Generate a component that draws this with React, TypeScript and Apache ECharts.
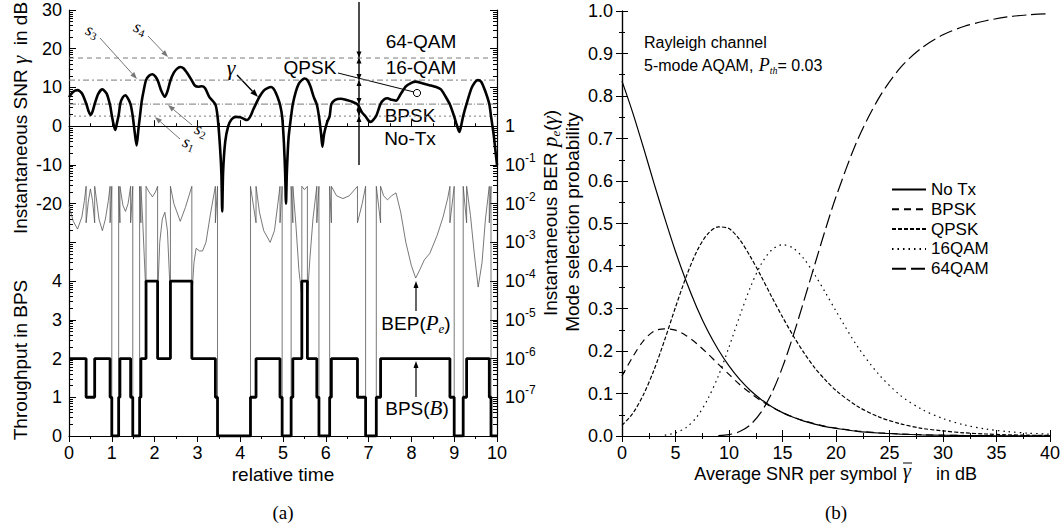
import React, { useEffect, useRef } from 'react';
import * as echarts from 'echarts';

// ---------- Panel (a) data ----------
const THRESH_DB = [2.6, 5.7, 11.9, 17.6]; // s1, s2, s3, s4

const SNR_T = [0.00,0.10,0.20,0.30,0.40,0.46,0.50,0.55,0.60,0.68,0.78,0.88,0.96,1.00,1.04,1.08,1.12,1.16,1.20,1.26,1.32,1.38,1.44,1.49,1.54,1.58,1.62,1.66,1.70,1.75,1.80,1.87,1.95,2.02,2.08,2.15,2.24,2.30,2.37,2.45,2.52,2.60,2.68,2.78,2.87,2.94,3.02,3.10,3.18,3.28,3.42,3.47,3.52,3.56,3.58,3.60,3.65,3.72,3.80,3.90,4.00,4.10,4.16,4.24,4.30,4.37,4.45,4.55,4.65,4.72,4.80,4.88,4.93,4.98,5.02,5.05,5.07,5.09,5.13,5.19,5.23,5.30,5.37,5.44,5.50,5.57,5.64,5.72,5.79,5.84,5.89,5.92,5.96,6.03,6.09,6.13,6.22,6.35,6.50,6.62,6.74,6.85,6.93,7.00,7.05,7.10,7.18,7.28,7.36,7.44,7.54,7.64,7.75,7.87,8.00,8.10,8.25,8.42,8.58,8.69,8.80,8.90,9.00,9.06,9.12,9.17,9.21,9.29,9.40,9.48,9.55,9.63,9.72,9.82,9.86,9.92,9.96,10.00];
const SNR_DB = [7.5,8.9,9.3,8.5,5.9,3.8,2.9,3.8,5.7,8.3,9.5,8.4,5.4,2.8,0.5,-1.0,0.8,2.8,5.9,7.5,8.0,7.1,5.6,2.5,-2.0,-5.0,-1.0,2.8,6.5,9.5,11.9,13.0,13.4,12.8,11.6,9.3,7.6,9.0,11.8,13.8,14.8,15.3,14.9,13.4,11.8,10.5,10.2,10.3,9.8,7.5,5.6,2.6,-4,-12,-22,-12,-4,0,1.8,2.4,2.3,1.8,1.6,2.6,4.2,5.8,7.6,9.2,9.9,10.1,9.3,7.3,5.6,2.5,-4,-12,-20,-12,-3,2.6,5.7,8.9,11.0,11.9,12.3,11.9,10.3,7.5,5.6,2.5,-2,-5.3,-2,1.0,2.6,5.7,6.8,7.1,6.7,6.3,5.6,3.5,2.5,1.4,1.1,1.5,2.7,5.8,6.9,7.2,6.8,6.6,8.3,10.3,11.2,11.5,11.1,10.6,10.1,9.5,7.6,5.6,2.5,0.3,-1.5,0.5,2.6,5.8,9.7,11.3,11.9,11.5,9.2,5.7,2.6,-2,-6,-10];

// instantaneous BER trace [relative time, BER] (1e-8 = no transmission, off scale)
const BER_TRACE: [number, number][] = [
  [0, 8.9e-3], [0.1, 3.5e-3], [0.2, 2.2e-3], [0.3, 4.5e-3], [0.36, 1.2e-2], [0.4, 2.8e-2],
  [0.4, 3.2e-3], [0.45, 1.1e-2], [0.5, 2.4e-2], [0.55, 1.2e-2], [0.6, 3.2e-3],
  [0.6, 2.8e-2], [0.65, 1.1e-2], [0.7, 4e-3], [0.78, 2e-3], [0.85, 4e-3], [0.92, 1.2e-2], [0.96, 2.8e-2],
  [0.96, 3.2e-3], [1.0, 2.8e-2], [1.0, 1e-8], [1.16, 1e-8], [1.16, 2.8e-2], [1.19, 3.2e-3],
  [1.19, 2.8e-2], [1.26, 9e-3], [1.32, 6.3e-3], [1.38, 1e-2], [1.44, 2.8e-2],
  [1.44, 3.2e-3], [1.49, 2.8e-2], [1.49, 1e-8], [1.65, 1e-8], [1.65, 2.8e-2], [1.68, 3.2e-3],
  [1.68, 2.8e-2], [1.72, 4e-3], [1.76, 4e-4], [1.8, 4e-5],
  [1.8, 2.8e-2], [1.87, 2e-2], [1.95, 1.5e-2], [2.02, 2e-2], [2.07, 2.8e-2],
  [2.07, 4e-5], [2.12, 1e-3], [2.18, 4e-3], [2.24, 6e-3], [2.3, 2e-3], [2.34, 2e-4], [2.37, 4e-5],
  [2.37, 2.8e-2], [2.45, 1e-2], [2.6, 3.5e-3], [2.72, 8e-3], [2.87, 2.8e-2],
  [2.87, 4e-5], [2.92, 3e-4], [2.97, 7e-4], [3.05, 6e-4], [3.12, 6e-4], [3.2, 1e-3], [3.3, 5e-3], [3.38, 1.6e-2], [3.42, 2.8e-2],
  [3.42, 3.2e-3], [3.47, 2.8e-2], [3.47, 1e-8], [4.24, 1e-8], [4.24, 2.8e-2], [4.37, 3.2e-3],
  [4.37, 2.8e-2], [4.45, 6e-3], [4.55, 2e-3], [4.7, 1e-3], [4.8, 2e-3], [4.88, 1e-2], [4.93, 2.8e-2],
  [4.93, 3.2e-3], [4.98, 2.8e-2], [4.98, 1e-8], [5.19, 1e-8], [5.19, 2.8e-2], [5.23, 3.2e-3],
  [5.23, 2.8e-2], [5.3, 3e-3], [5.37, 2e-4], [5.44, 4e-5],
  [5.44, 2.8e-2], [5.5, 2.3e-2], [5.57, 2.8e-2],
  [5.57, 4e-5], [5.63, 4e-4], [5.7, 4e-3], [5.79, 2.8e-2],
  [5.79, 3.2e-3], [5.84, 2.8e-2], [5.84, 1e-8], [6.09, 1e-8], [6.09, 2.8e-2], [6.13, 3.2e-3],
  [6.13, 2.8e-2], [6.25, 1.6e-2], [6.4, 1.35e-2], [6.55, 1.6e-2], [6.74, 2.8e-2],
  [6.74, 3.2e-3], [6.85, 1e-2], [6.93, 2.8e-2], [6.93, 1e-8], [7.18, 1e-8], [7.18, 2.8e-2], [7.28, 3.2e-3],
  [7.28, 2.8e-2], [7.35, 1.6e-2], [7.44, 1.25e-2], [7.54, 1.6e-2], [7.64, 1.9e-2], [7.75, 6e-3], [7.87, 1e-3], [8.0, 2.5e-4], [8.1, 1.2e-4], [8.2, 2e-4], [8.3, 3.5e-4], [8.43, 5.2e-4], [8.6, 1.5e-3], [8.74, 4.5e-3], [8.85, 1.4e-2], [8.9, 2.8e-2],
  [8.9, 3.2e-3], [9.0, 2.8e-2], [9.0, 1e-8], [9.21, 1e-8], [9.21, 2.8e-2], [9.29, 3.2e-3],
  [9.29, 2.8e-2], [9.38, 5e-3], [9.47, 5e-4], [9.56, 7e-5], [9.65, 3e-4], [9.73, 4e-3], [9.82, 2.8e-2],
  [9.82, 3.2e-3], [9.86, 2.8e-2], [9.86, 1e-8], [10, 1e-8],
];

// throughput (bits per symbol), level holds from TP_T[i] to TP_T[i+1]
const TP_T = [0,0.4,0.6,0.96,1.0,1.16,1.19,1.44,1.49,1.65,1.68,1.8,2.07,2.37,2.87,3.42,3.47,4.24,4.37,4.93,4.98,5.19,5.23,5.44,5.57,5.79,5.84,6.09,6.13,6.74,6.93,7.18,7.28,8.9,9.0,9.21,9.29,9.82,9.86,10];
const TP_B = [2,1,2,1,0,1,2,1,0,1,2,4,2,4,2,1,0,1,2,1,0,1,2,4,2,1,0,1,2,1,0,1,2,1,0,1,2,1,0,0];

// ---------- Panel (b) data ----------
const AVG_SNR = [0,1,2,3,4,5,6,7,8,9,10,11,12,13,14,15,16,17,18,19,20,22,24,26,28,30,32,34,36,38,40];
const P_NOTX = [0.835,0.761,0.679,0.594,0.512,0.434,0.364,0.302,0.248,0.203,0.165,0.133,0.107,0.086,0.069,0.055,0.044,0.035,0.028,0.022,0.018,0.011,0.007,0.0045,0.0028,0.0018,0.0011,0.0007,0.00045,0.0003,0.0002];
const P_BPSK = [0.141,0.186,0.224,0.247,0.252,0.249,0.236,0.217,0.194,0.169,0.145,0.121,0.101,0.083,0.068,0.055,0.0445,0.036,0.029,0.023,0.0185,0.0118,0.0075,0.0047,0.003,0.0019,0.0012,0.0007,0.0005,0.0003,0.0002];
const P_QPSK = [0.025,0.053,0.097,0.156,0.227,0.303,0.375,0.435,0.475,0.492,0.488,0.462,0.422,0.376,0.327,0.28,0.236,0.196,0.161,0.132,0.107,0.070,0.045,0.029,0.018,0.012,0.0074,0.0047,0.0029,0.0019,0.0012];
const P_16QAM = [null,null,null,null,0.002,0.0074,0.020,0.045,0.086,0.141,0.209,0.282,0.35,0.404,0.438,0.45,0.442,0.417,0.38,0.338,0.294,0.211,0.145,0.096,0.063,0.041,0.026,0.0165,0.0105,0.0066,0.0042];
const P_64QAM = [null,null,null,null,null,null,null,null,null,0.0007,0.0032,0.0104,0.0266,0.056,0.101,0.162,0.236,0.318,0.402,0.485,0.563,0.696,0.795,0.866,0.913,0.944,0.964,0.977,0.986,0.991,0.994];
const MODE_NAMES = ['No Tx', 'BPSK', 'QPSK', '16QAM', '64QAM'];

// tick helpers
const LOG_MINOR_OFFSETS = [3.01, 4.77, 6.02, 6.99, 7.78, 8.45, 9.03, 9.54];
const DECADES = [-80, -70, -60, -50, -40, -30, -20, -10, 0, 10, 20];

const SANS = '"Liberation Sans", Arial, Helvetica, sans-serif';
const SERIF = '"Liberation Serif", "DejaVu Serif", Times, serif';

function arrow(x1: number, y1: number, x2: number, y2: number, color: string, w: number, hl = 7, hw = 2.6) {
  const dx = x2 - x1, dy = y2 - y1;
  const L = Math.sqrt(dx * dx + dy * dy);
  const ux = dx / L, uy = dy / L;
  const bx = x2 - ux * hl, by = y2 - uy * hl;
  const px = -uy * hw, py = ux * hw;
  return [
    { type: 'line', silent: true, shape: { x1, y1, x2: bx, y2: by }, style: { stroke: color, lineWidth: w } },
    { type: 'polygon', silent: true, shape: { points: [[x2, y2], [bx + px, by + py], [bx - px, by - py]] }, style: { fill: color } },
  ];
}

function text(x: number, y: number, t: string, o: any = {}) {
  return {
    type: 'text', x, y, rotation: o.rot || 0, silent: true,
    style: {
      text: t, fill: o.color || '#000',
      font: `${o.italic ? 'italic ' : ''}${o.size || 19}px ${o.family || SANS}`,
      align: o.align || 'center', verticalAlign: 'middle', rich: o.rich,
    },
  };
}

const richBase = (size: number, color = '#000') => ({
  a: { fontSize: size, fontFamily: SANS, color },
  g: { fontSize: size + 2, fontFamily: SERIF, fontStyle: 'italic', color },
  s: { fontSize: size - 6, fontFamily: SERIF, fontStyle: 'italic', color, verticalAlign: 'bottom', padding: [10, 0, 0, 0] },
});

export default function App() {
  const ref = useRef<HTMLDivElement>(null);
  useEffect(() => {
    if (!ref.current) return;
    const chart = echarts.init(ref.current, undefined, { renderer: 'svg' });
    const minorTicks: number[] = [];
    DECADES.forEach((d) => LOG_MINOR_OFFSETS.forEach((o) => { if (d + o < 30) minorTicks.push(d + o); }));

    const axisLine = { show: true, lineStyle: { color: '#000', width: 1.2 } };
    const tickLbl = { color: '#000', fontSize: 18, fontFamily: SANS };

    const grayThr = '#7a7a7a';
    const thrStyles: any[] = [[2, 3], [7, 2, 1, 2], [6, 3, 2, 3], [5, 4]];

    const series: any[] = [];
    THRESH_DB.forEach((s, i) => {
      series.push({
        type: 'line', xAxisIndex: 0, yAxisIndex: 0, data: [[0, s], [10, s]], symbol: 'none', silent: true,
        lineStyle: { color: grayThr, width: 1, type: thrStyles[i] }, z: 1,
      });
    });
    series.push({
      type: 'line', xAxisIndex: 0, yAxisIndex: 2, symbol: 'none', silent: true,
      data: BER_TRACE.map(([t, p]) => [t, Math.log10(p)]),
      lineStyle: { color: '#555', width: 0.8 }, z: 2,
    });
    series.push({
      type: 'line', xAxisIndex: 0, yAxisIndex: 1, symbol: 'none', silent: true, step: 'end',
      data: TP_T.map((t, i) => [t, TP_B[i]]),
      lineStyle: { color: '#000', width: 2.8 }, z: 3,
    });
    series.push({
      type: 'line', xAxisIndex: 0, yAxisIndex: 0, symbol: 'none', silent: true, smooth: 0.25,
      data: SNR_T.map((t, i) => [t, SNR_DB[i]]),
      lineStyle: { color: '#000', width: 2.6 }, z: 4,
    });

    const modeData = [P_NOTX, P_BPSK, P_QPSK, P_16QAM, P_64QAM];
    const modeDash: any[] = ['solid', [7, 5], [4, 2], [1.5, 4], [14, 5]];
    MODE_NAMES.forEach((name, i) => {
      series.push({
        name, type: 'line', xAxisIndex: 2, yAxisIndex: 5, symbol: 'none', smooth: 0.3, silent: true,
        data: AVG_SNR.map((x, k) => [x, modeData[i][k]]).filter((d) => d[1] !== null),
        lineStyle: { color: '#000', width: 1.2, type: modeDash[i] },
        itemStyle: { color: '#000' },
      });
    });

    const graphics: any[] = [];
    // axis names
    graphics.push(text(20, 118, '{a|Instantaneous SNR }{g|γ}{a|  in dB}', { rot: Math.PI / 2, rich: richBase(19) }));
    graphics.push(text(20, 360, 'Throughput in BPS', { rot: Math.PI / 2 }));
    graphics.push(text(550, 213, '{a|Instantaneous BER }{g|p}{s|e}{a|(}{g|γ}{a|)}', { rot: Math.PI / 2, rich: richBase(19) }));
    graphics.push(text(572, 222, 'Mode selection probability', { rot: Math.PI / 2 }));
    graphics.push(text(283, 474, 'relative time'));
    graphics.push(text(897, 474, 'Average SNR per symbol', { align: 'right', size: 18 }));
    graphics.push(text(907, 471, 'γ', { family: SERIF, italic: true, size: 20 }));
    graphics.push({ type: 'line', silent: true, shape: { x1: 903, y1: 463, x2: 912, y2: 463 }, style: { stroke: '#000', lineWidth: 1 } });
    graphics.push(text(936, 474, 'in dB', { align: 'left', size: 18 }));
    graphics.push(text(283, 512, '(a)', { family: SERIF, size: 19 }));
    graphics.push(text(836, 512, '(b)', { family: SERIF, size: 19 }));
    // panel (b) texts
    graphics.push(text(644, 42, 'Rayleigh channel', { align: 'left', size: 16 }));
    graphics.push(text(644, 65, '{a|5-mode AQAM, }{g|P}{s|th}{a|= 0.03}', { align: 'left', rich: richBase(16) }));
    // panel (a) annotations
    const sRich = {
      g: { fontSize: 17, fontFamily: SERIF, fontStyle: 'italic', color: '#666' },
      s: { fontSize: 11, fontFamily: SERIF, color: '#666', verticalAlign: 'bottom', padding: [8, 0, 0, 0] },
    };
    graphics.push(text(92, 31, '{g|s}{s|3}', { rot: -0.35, rich: sRich }));
    graphics.push(...arrow(100, 38, 137, 79, '#777', 1));
    graphics.push(text(140, 28, '{g|s}{s|4}', { rot: -0.35, rich: sRich }));
    graphics.push(...arrow(148, 36, 168, 57, '#777', 1));
    graphics.push(text(201, 130, '{g|s}{s|2}', { rot: -0.35, rich: sRich }));
    graphics.push(...arrow(192, 125, 168, 105, '#777', 1));
    graphics.push(text(189, 143, '{g|s}{s|1}', { rot: -0.35, rich: sRich }));
    graphics.push(...arrow(180, 139, 155, 117, '#777', 1));
    graphics.push(text(231, 67, 'γ', { family: SERIF, italic: true, size: 22 }));
    graphics.push(...arrow(237, 75, 258, 97, '#000', 1.4, 8, 3));

    graphics.push(text(421, 41, '64-QAM'));
    graphics.push(text(421, 67, '16-QAM'));
    graphics.push(text(310, 67, 'QPSK'));
    graphics.push(text(410, 115, 'BPSK'));
    graphics.push(text(410, 138, 'No-Tx'));
    graphics.push({ type: 'line', silent: true, shape: { x1: 338, y1: 73, x2: 414, y2: 92 }, style: { stroke: '#000', lineWidth: 1 } });
    graphics.push({ type: 'circle', silent: true, shape: { cx: 417, cy: 93, r: 3.6 }, style: { stroke: '#000', fill: '#fff', lineWidth: 1 } });
    // region marker line with arrowheads at thresholds
    graphics.push({ type: 'line', silent: true, shape: { x1: 359, y1: 2, x2: 359, y2: 165 }, style: { stroke: '#000', lineWidth: 1.4 } });
    [57.5, 80, 104, 116].forEach((yy) => {
      graphics.push({ type: 'polygon', silent: true, shape: { points: [[359, yy], [356.5, yy - 6], [361.5, yy - 6]] }, style: { fill: '#000' } });
      graphics.push({ type: 'polygon', silent: true, shape: { points: [[359, yy], [356.5, yy + 6], [361.5, yy + 6]] }, style: { fill: '#000' } });
    });
    graphics.push(text(416, 323, '{a|BEP(}{g|P}{s|e}{a|)}', { rich: richBase(19) }));
    graphics.push(...arrow(416, 311, 416, 281, '#000', 1.2, 7, 2.5));
    graphics.push(text(417, 408, '{a|BPS(}{g|B}{a|)}', { rich: richBase(19) }));
    graphics.push(...arrow(416, 397, 416, 361, '#000', 1.2, 7, 2.5));

    const option: any = {
      animation: false,
      textStyle: { fontFamily: SANS },
      grid: [
        { left: 69, top: 10, width: 428, height: 426, outerBoundsMode: 'none' },
        { left: 622, top: 11, width: 428, height: 425, outerBoundsMode: 'none' },
      ],
      xAxis: [
        { gridIndex: 0, type: 'value', min: 0, max: 10, interval: 1, position: 'bottom', axisLine,
          axisTick: { show: true, inside: true, length: 6, lineStyle: { color: '#000' } },
          minorTick: { show: true, splitNumber: 2, length: 3, lineStyle: { color: '#000' } },
          axisLabel: { ...tickLbl, margin: 8 }, splitLine: { show: false } },
        { gridIndex: 0, type: 'value', min: 0, max: 10, interval: 1, position: 'top', axisLine,
          axisTick: { show: true, inside: true, length: 6, lineStyle: { color: '#000' } },
          minorTick: { show: true, splitNumber: 2, length: 3, lineStyle: { color: '#000' } },
          axisLabel: { show: false }, splitLine: { show: false } },
        { gridIndex: 1, type: 'value', min: 0, max: 40, interval: 5, position: 'bottom', axisLine,
          axisTick: { show: true, inside: true, length: 6, lineStyle: { color: '#000' } },
          minorTick: { show: true, splitNumber: 2, length: 3, lineStyle: { color: '#000' } },
          axisLabel: { ...tickLbl, margin: 8 }, splitLine: { show: false } },
        { gridIndex: 1, type: 'value', min: 0, max: 40, interval: 5, position: 'top', axisLine,
          axisTick: { show: true, inside: true, length: 6, lineStyle: { color: '#000' } },
          minorTick: { show: true, splitNumber: 2, length: 3, lineStyle: { color: '#000' } },
          axisLabel: { show: false }, splitLine: { show: false } },
      ],
      yAxis: [
        // 0: SNR dB (left)
        { gridIndex: 0, type: 'value', min: -80, max: 30, interval: 10, position: 'left', axisLine,
          axisTick: { show: true, inside: true, length: 7, lineStyle: { color: '#000' } },
          axisLabel: { ...tickLbl, margin: 7, formatter: (v: number) => (v >= -20 ? String(v) : '') },
          splitLine: { show: false } },
        // 1: throughput (left)
        { gridIndex: 0, type: 'value', min: 0, max: 11, interval: 1, position: 'left', axisLine: { show: false },
          axisTick: { show: false },
          axisLabel: { ...tickLbl, margin: 7, formatter: (v: number) => (v <= 4 ? String(v) : '') },
          splitLine: { show: false } },
        // 2: BER log10 (right)
        { gridIndex: 0, type: 'value', min: -8, max: 3, interval: 1, position: 'right', axisLine,
          axisTick: { show: true, inside: true, length: 7, lineStyle: { color: '#000' } },
          axisLabel: {
            ...tickLbl, margin: 8, lineHeight: 26, align: 'left',
            formatter: (v: number) => {
              const k = Math.round(v);
              if (k > 0 || k < -7) return '';
              if (k === 0) return '1';
              return `10{s|-${Math.abs(k)}}`;
            },
            rich: { s: { fontSize: 12, lineHeight: 12, verticalAlign: 'top', fontFamily: SANS, color: '#000' } },
          },
          splitLine: { show: false } },
        // 3: left minor log ticks
        { gridIndex: 0, type: 'value', min: -80, max: 30, position: 'left', axisLine: { show: false },
          axisTick: { show: true, inside: true, length: 4, customValues: minorTicks, lineStyle: { color: '#000' } },
          axisLabel: { show: false }, splitLine: { show: false } },
        // 4: right minor log ticks
        { gridIndex: 0, type: 'value', min: -80, max: 30, position: 'right', axisLine: { show: false },
          axisTick: { show: true, inside: true, length: 4, customValues: minorTicks, lineStyle: { color: '#000' } },
          axisLabel: { show: false }, splitLine: { show: false } },
        // 5: mode probability (left)
        { gridIndex: 1, type: 'value', min: 0, max: 1, interval: 0.1, position: 'left', axisLine,
          axisTick: { show: true, inside: true, length: 6, lineStyle: { color: '#000' } },
          minorTick: { show: true, splitNumber: 2, length: 3, lineStyle: { color: '#000' } },
          axisLabel: { ...tickLbl, margin: 9, formatter: (v: number) => v.toFixed(1) }, splitLine: { show: false } },
        // 6: right mirror
        { gridIndex: 1, type: 'value', min: 0, max: 1, interval: 0.1, position: 'right', axisLine,
          axisTick: { show: true, inside: true, length: 6, lineStyle: { color: '#000' } },
          minorTick: { show: true, splitNumber: 2, length: 3, lineStyle: { color: '#000' } },
          axisLabel: { show: false }, splitLine: { show: false } },
      ],
      legend: {
        data: MODE_NAMES, orient: 'vertical', left: 886, top: 176, itemWidth: 34, itemHeight: 14, itemGap: 2.8,
        itemStyle: { color: 'rgba(0,0,0,0)', borderWidth: 0, opacity: 0 },
        textStyle: { fontSize: 17, color: '#000', fontFamily: SANS }, selectedMode: false,
      },
      series,
      graphic: { elements: graphics },
    };
    chart.setOption(option);
    return () => chart.dispose();
  }, []);
  return <div ref={ref} style={{ position: 'absolute', left: 0, top: 0, width: 1063, height: 529, background: '#fff' }} />;
}
